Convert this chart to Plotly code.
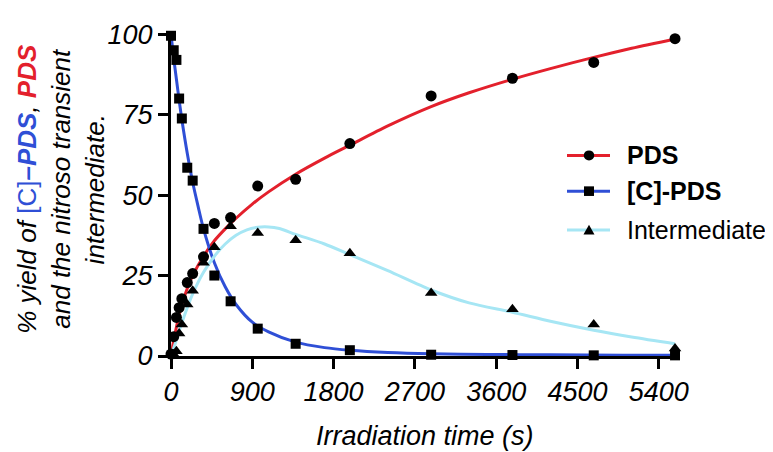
import plotly.graph_objects as go

# ---------------- data ----------------
times = [0, 30, 60, 90, 120, 180, 240, 360, 480, 660, 960, 1380, 1980, 2880, 3780, 4680, 5580]
pds_pts = [0.6, 6, 12, 15, 17.8, 22.8, 25.6, 30.8, 41.2, 43, 52.8, 54.9, 66, 80.8, 86.3, 91.2, 98.6]
cpds_pts = [99.5, 95, 92, 80, 73.8, 58.5, 54.5, 39.5, 25, 17, 8.5, 3.8, 1.8, 0.4, 0.3, 0.2, 0.2]
inter_pts = [0.3, 0.5, 1.5, 7, 9.8, 16, 20.3, 29, 33.8, 40.3, 38.2, 36, 31.9, 19.6, 14.5, 9.8, 2.3]

# fitted curves
pds_fit_t = [0, 30, 60, 90, 120, 180, 240, 360, 480, 600, 720, 900, 1080, 1380, 1700, 1980,
             2400, 2880, 3300, 3780, 4200, 4680, 5100, 5580]
pds_fit_y = [0, 4.8, 9, 12.8, 16, 21, 25, 31, 35.8, 39.5, 42.8, 47.2, 51, 56.5, 61.5, 65.5,
             71.5, 77.5, 81.8, 86, 89.3, 92.8, 95.6, 98.5]
cpds_fit_t = [0, 30, 60, 90, 120, 180, 240, 300, 360, 480, 600, 720, 900, 1080, 1380, 1700,
              1980, 2400, 2880, 3500, 4200, 5000, 5580]
cpds_fit_y = [100, 92.5, 86, 79.5, 73.5, 63, 54, 46.5, 39.5, 29, 21.5, 16, 10.5, 7.5, 4.3, 2.6,
              1.8, 1.1, 0.7, 0.5, 0.35, 0.25, 0.2]
inter_fit_t = [0, 30, 60, 90, 120, 180, 240, 360, 480, 600, 720, 840, 960, 1080, 1200, 1380,
               1700, 1980, 2400, 2880, 3300, 3780, 4200, 4680, 5100, 5580]
inter_fit_y = [0, 2.5, 5, 7.8, 10.3, 15, 19.3, 26, 31, 34.8, 37.5, 39.2, 40, 40.1, 39.6, 37.8,
               34.8, 31.5, 26.5, 20.5, 16.5, 13.6, 10.8, 8.0, 5.9, 3.8]

x_ticks = [0, 900, 1800, 2700, 3600, 4500, 5400]
y_ticks = [0, 25, 50, 75, 100]

series_names = ["<b>PDS</b>", "<b>[C]-PDS</b>", "Intermediate"]

# ---------------- styles ----------------
RED = "#e3202c"
BLUE = "#2f4fd6"
CYAN = "#a6e6f4"
FONT = "Liberation Sans, Arial, sans-serif"
FS = 27
TITLE_FS = 26
LEG_FS = 25

W, H = 773, 452
ML, MR, MT, MB = 163, 101, 13, 104
PW, PH = W - ML - MR, H - MT - MB


def px_x(px):
    return (px - ML) / PW


def px_y(py):
    return (H - MB - py) / PH


fig = go.Figure()

curves = [(pds_fit_t, pds_fit_y, RED), (cpds_fit_t, cpds_fit_y, BLUE), (inter_fit_t, inter_fit_y, CYAN)]
for tt, yy, col in curves:
    fig.add_trace(go.Scatter(x=tt, y=yy, mode="lines",
                             line=dict(color=col, width=3, shape="spline", smoothing=0.8),
                             showlegend=False, hoverinfo="skip", cliponaxis=False))

points = [(pds_pts, "circle", 11), (cpds_pts, "square", 10), (inter_pts, "triangle-up", 11)]
for yy, sym, sz in points:
    fig.add_trace(go.Scatter(x=times, y=yy, mode="markers",
                             marker=dict(color="black", symbol=sym, size=sz, line=dict(width=0)),
                             showlegend=False, cliponaxis=False))

# ---------------- custom legend ----------------
leg_rows_px = [139.3, 176.5, 217.0]
leg_cols = [RED, BLUE, CYAN]
lx0, lx1, ltx = px_x(559), px_x(602), px_x(617)
r = 5.2
for i, (rowpx, col, name) in enumerate(zip(leg_rows_px, leg_cols, series_names)):
    yp = px_y(rowpx)
    fig.add_shape(type="line", xref="paper", yref="paper", x0=lx0, x1=lx1, y0=yp, y1=yp,
                  line=dict(color=col, width=3))
    cx = 581
    if i == 0:
        fig.add_shape(type="circle", xref="paper", yref="paper",
                      x0=px_x(cx - r), x1=px_x(cx + r), y0=px_y(rowpx + r), y1=px_y(rowpx - r),
                      fillcolor="black", line=dict(width=0))
    elif i == 1:
        fig.add_shape(type="rect", xref="paper", yref="paper",
                      x0=px_x(cx - 5), x1=px_x(cx + 5), y0=px_y(rowpx + 5), y1=px_y(rowpx - 5),
                      fillcolor="black", line=dict(width=0))
    else:
        path = "M {:.5f},{:.5f} L {:.5f},{:.5f} L {:.5f},{:.5f} Z".format(
            px_x(cx - 5.5), px_y(rowpx + 4.5), px_x(cx + 5.5), px_y(rowpx + 4.5),
            px_x(cx), px_y(rowpx - 5.5))
        fig.add_shape(type="path", xref="paper", yref="paper", path=path,
                      fillcolor="black", line=dict(width=0))
    fig.add_annotation(x=ltx, y=yp, xref="paper", yref="paper", text=name, showarrow=False,
                       xanchor="left", yanchor="middle",
                       font=dict(family=FONT, size=LEG_FS, color="black"))

# ---------------- axis titles ----------------
ytitle = ("<i>% yield of </i><span style='color:" + BLUE + "'>[C]</span>"
          "<span style='color:" + BLUE + "'><b><i>–PDS</i></b></span><i>, </i>"
          "<span style='color:" + RED + "'><b><i>PDS</i></b></span><br>"
          "<i>and the nitroso transient</i><br><i>intermediate.</i>")
fig.add_annotation(x=px_x(53), y=px_y(174), xref="paper", yref="paper", text=ytitle,
                   showarrow=False, textangle=-90, xanchor="center", yanchor="middle",
                   align="center", font=dict(family=FONT, size=TITLE_FS, color="black"))
fig.add_annotation(x=px_x(417), y=px_y(431), xref="paper", yref="paper",
                   text="<i>Irradiation time (s)</i>", showarrow=False,
                   xanchor="center", yanchor="middle",
                   font=dict(family=FONT, size=FS, color="black"))

axis_common = dict(showline=True, linecolor="black", linewidth=3, ticks="outside",
                   ticklen=10, tickwidth=3, tickcolor="black", showgrid=False,
                   zeroline=False, ticklabeloverflow="allow",
                   tickfont=dict(family=FONT, size=FS, color="black", style="italic"))

fig.update_xaxes(range=[0, 5635], tickvals=x_ticks, ticktext=[str(v) for v in x_ticks],
                 **axis_common)
fig.update_yaxes(range=[0, 100.05], tickvals=y_ticks, ticktext=[str(v) for v in y_ticks],
                 **axis_common)

fig.update_layout(width=W, height=H, margin=dict(l=ML, r=MR, t=MT, b=MB),
                  plot_bgcolor="white", paper_bgcolor="white", showlegend=False,
                  font=dict(family=FONT, size=FS, color="black"))

fig.write_html("out.html")
